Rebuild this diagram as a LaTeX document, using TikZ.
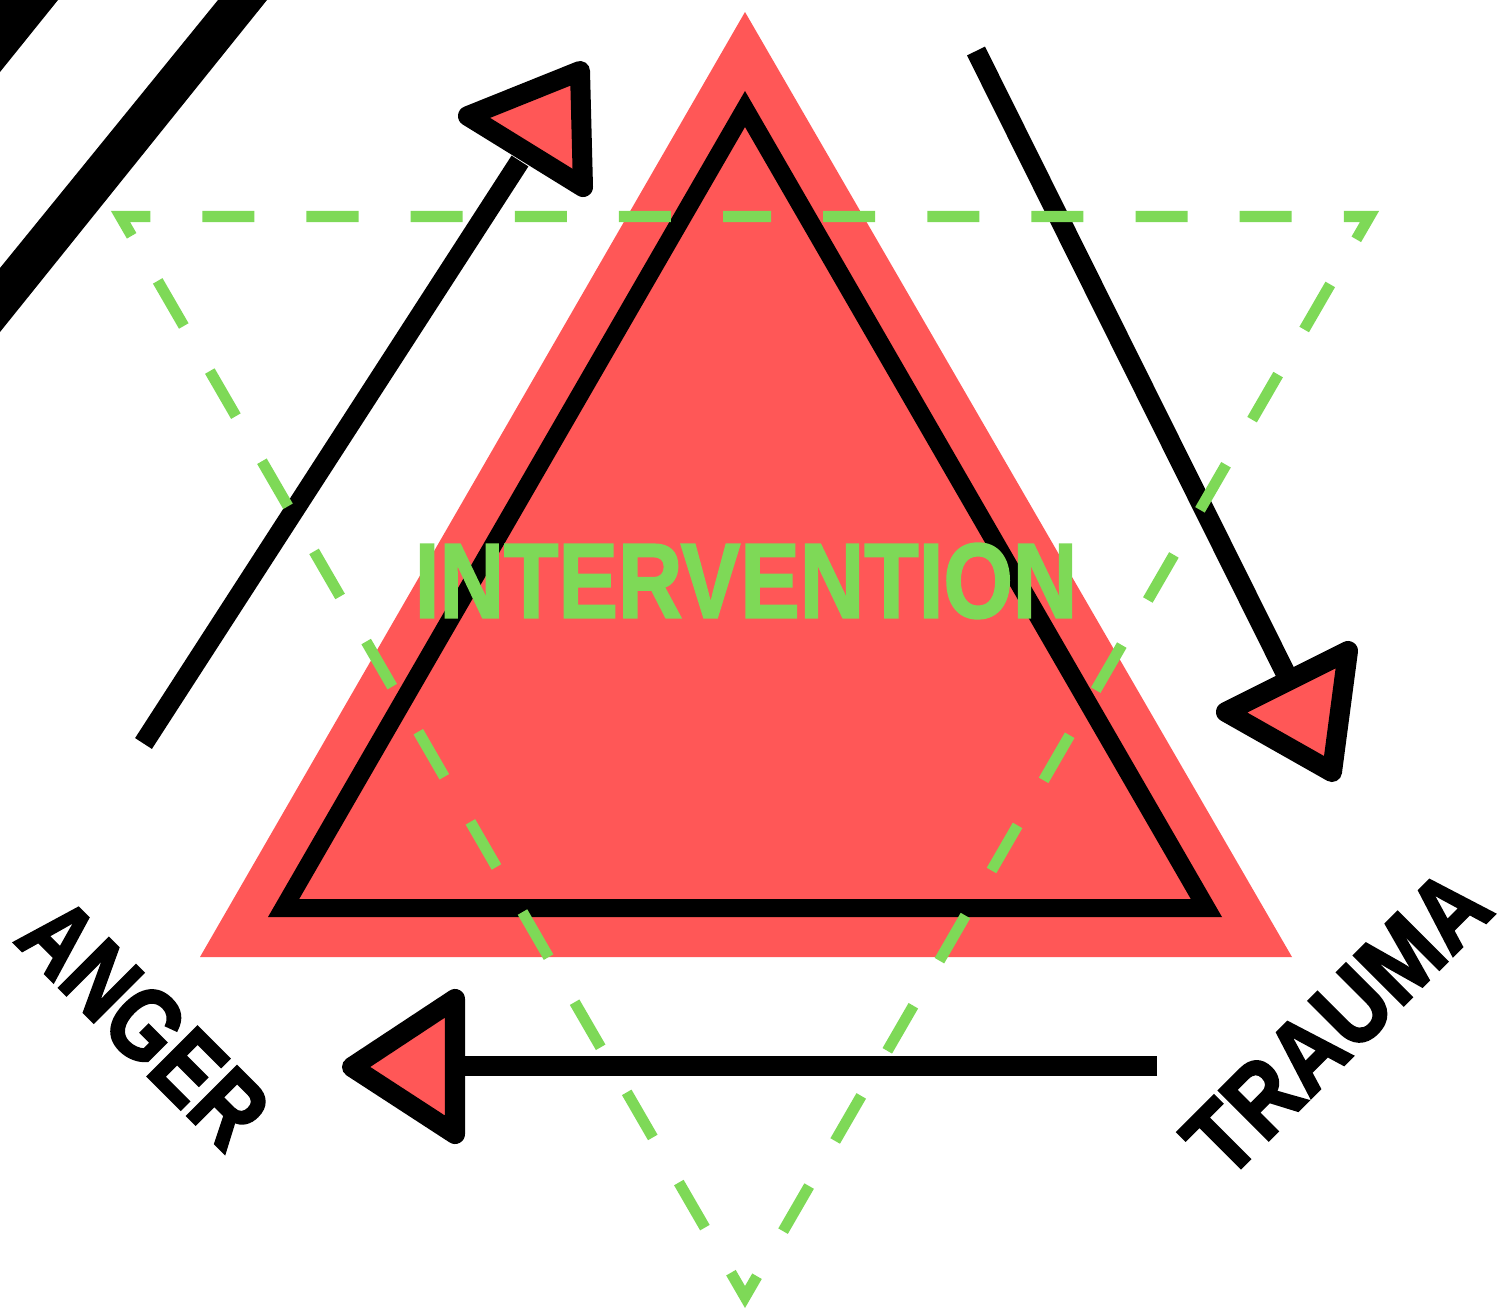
\documentclass[tikz,border=0pt]{standalone}
\usepackage{fontspec}
\setmainfont{Liberation Sans}
\newfontfamily\tagfont{Liberation Sans}[BoldFeatures={FakeBold=2.5}]
\newfontfamily\wordfont{Liberation Sans}[BoldFeatures={FakeBold=2}]
\usetikzlibrary{positioning}
\definecolor{coral}{HTML}{FF5757}
\definecolor{leaf}{HTML}{7ED957}

\begin{document}
\begin{tikzpicture}[
  x=0.01cm, y=-0.01cm,
  shaft/.style={draw=black, line width=2mm},
  headtri/.style={draw=black, fill=coral, line width=2mm, line join=round},
  frametri/.style={draw=black, line width=1.8mm, line join=miter},
  dashtri/.style={draw=leaf, line width=1.1mm, line join=miter, dash pattern=on 5.204mm off 5.204mm, dash phase=2.602mm},
  word/.style={font=\wordfont\fontsize{30.2}{30}\selectfont\bfseries, text=leaf, inner sep=0pt},
  cornerword/.style={font=\tagfont\fontsize{29}{29}\selectfont\bfseries, inner sep=0pt}
]
\useasboundingbox (0,0) rectangle (1505,1309);
\clip (0,0) rectangle (1505,1309);

\fill (0,0) -- (58,0) -- (0,72) -- cycle;
\fill (218,0) -- (267,0) -- (0,332) -- (0,268) -- cycle;

\coordinate (rtop) at (745,12);
\coordinate (rleft) at (200,957);
\coordinate (rright) at (1292,957);
\fill[coral] (rtop) -- (rleft) -- (rright) -- cycle;

\coordinate (ftop) at (745,109);
\coordinate (fleft) at (283.6,908);
\coordinate (fright) at (1206.4,908);
\draw[frametri] (ftop) -- (fleft) -- (fright) -- cycle;

\coordinate (upstart) at (143.5,743.5);
\coordinate (upend) at (520,161);
\draw[shaft] (upstart) -- (upend);
\draw[headtri] (468,116) -- (580,71) -- (583,187) -- cycle;

\coordinate (downstart) at (976,51);
\coordinate (downend) at (1285,672);
\draw[shaft] (downstart) -- (downend);
\draw[headtri] (1226,712) -- (1348,651) -- (1332,772) -- cycle;

\coordinate (backstart) at (1157,1066);
\coordinate (backend) at (450,1066);
\draw[shaft] (backstart) -- (backend);
\draw[headtri] (352,1067) -- (455,999) -- (455,1134) -- cycle;

\coordinate (gmid) at (745,216.5);
\coordinate (gright) at (1369.5,216.5);
\coordinate (gbottom) at (745,1297);
\coordinate (gleft) at (120.5,216.5);
\draw[dashtri] (gmid) -- (gright) -- (gbottom) -- (gleft) -- (gmid);

\node[word, xscale=0.84] (intv) at (746,581) {INTERVENTION};
\node[cornerword, rotate=-45, xscale=0.82] (anger) at (144,1023) {ANGER};
\node[cornerword, rotate=45, xscale=0.865] (trauma) at (1337,1023) {TRAUMA};
\end{tikzpicture}
\end{document}
